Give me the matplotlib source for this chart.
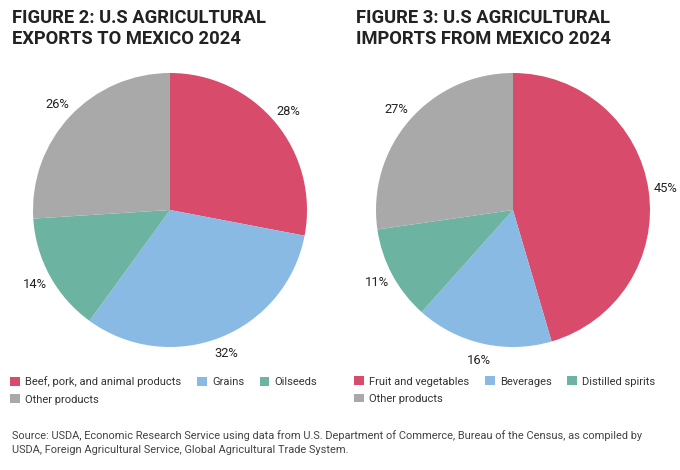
import matplotlib
matplotlib.use("Agg")
import matplotlib.pyplot as plt
from matplotlib.patches import Patch

plt.rcParams['font.family'] = ['Roboto', 'DejaVu Sans']

# Дані
exp_labels = ['Beef, pork, and animal products', 'Grains', 'Oilseeds', 'Other products']
exp_values = [28, 32, 14, 26]
imp_labels = ['Fruit and vegetables', 'Beverages', 'Distilled spirits', 'Other products']
imp_values = [45, 16, 11, 27]
colors = ['#D94B6B', '#88BAE4', '#6DB3A2', '#A9A9A9']

titles = ['FIGURE 2: U.S AGRICULTURAL\nEXPORTS TO MEXICO 2024',
          'FIGURE 3: U.S AGRICULTURAL\nIMPORTS FROM MEXICO 2024']
source = ('Source: USDA, Economic Research Service using data from U.S. Department of Commerce, '
          'Bureau of the Census, as compiled by\nUSDA, Foreign Agricultural Service, '
          'Global Agricultural Trade System.')

W, H = 680, 470
fig = plt.figure(figsize=(W / 100, H / 100), dpi=100)
fig.patch.set_facecolor('white')

R = 137  # радіус у пікселях


def draw_pie(cx, cy, values, labels, title, tx):
    ax = fig.add_axes([(cx - R) / W, (H - cy - R) / H, 2 * R / W, 2 * R / H])
    wedges, texts = ax.pie(values, colors=colors, startangle=90, counterclock=False,
                           labels=[f'{v}%' for v in values], labeldistance=1.125,
                           wedgeprops=dict(linewidth=0),
                           textprops=dict(fontsize=9.3, color='#222222'))
    for t in texts:
        t.set_ha('center')
        t.set_va('center')
    ax.set_xlim(-1, 1)
    ax.set_ylim(-1, 1)

    fig.text(tx / W, 1 - 9 / H, title, ha='left', va='top', fontsize=13.2,
             fontweight='bold', color='#222222', linespacing=1.25)

    # легенда: перший рядок 3 елементи, другий - останній
    h = [Patch(facecolor=c, edgecolor='none') for c in colors]
    order = [0, 3, 1, 2]
    fig.legend([h[i] for i in order], [labels[i] for i in order], ncol=3,
               loc='upper left', bbox_to_anchor=((tx - 6) / W, 1 - 372 / H),
               frameon=False, fontsize=8.0, handlelength=0.85, handleheight=0.85,
               handletextpad=0.5, columnspacing=1.4, labelspacing=0.62,
               labelcolor='#333333', borderaxespad=0)


draw_pie(170, 210, exp_values, exp_labels, titles[0], 12)
draw_pie(513, 210, imp_values, imp_labels, titles[1], 356)

fig.text(12 / W, 1 - 430 / H, source, ha='left', va='top', fontsize=7.9,
         color='#444444', linespacing=1.45)

fig.savefig('out.png', dpi=100, facecolor='white')
